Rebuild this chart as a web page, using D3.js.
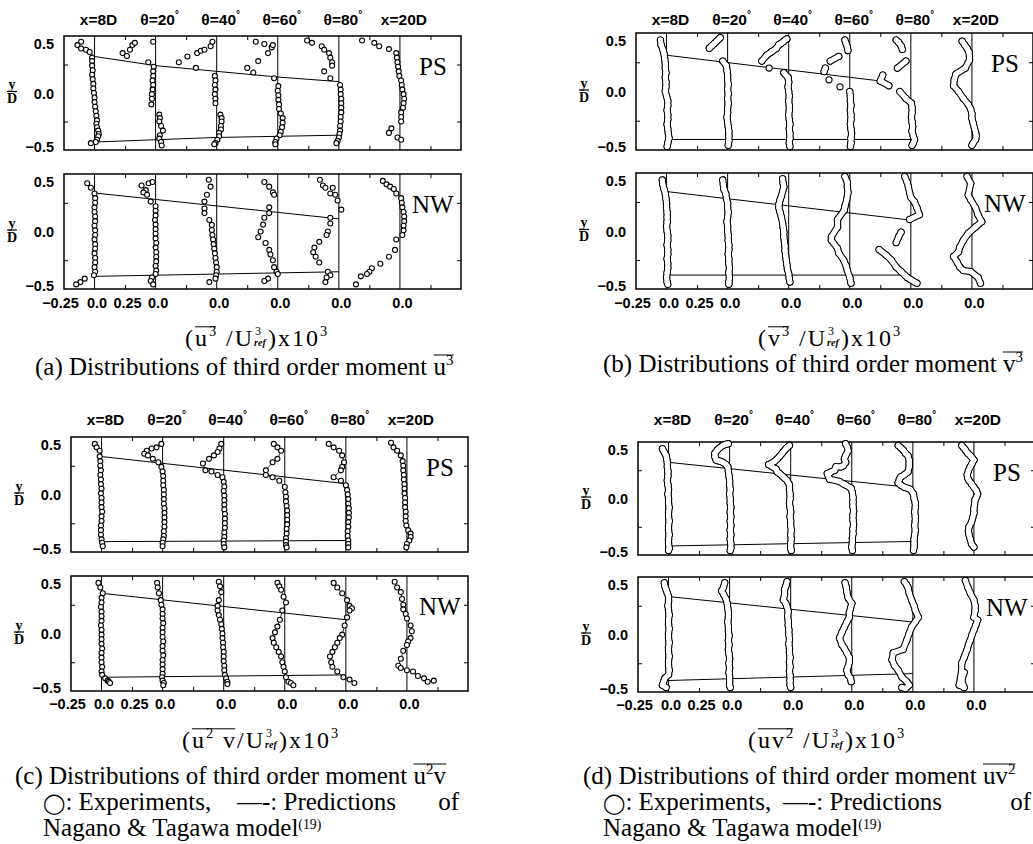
<!DOCTYPE html>
<html>
<head>
<meta charset="utf-8">
<script src="https://cdn.jsdelivr.net/npm/d3@7"></script>
<style>
  body { margin: 0; background: #fff; }
  svg { display: block; }
  text { white-space: pre; }
</style>
</head>
<body>
<div id="chart"></div>
<script>
const stationLabels = ["x=8D", "θ=20°", "θ=40°", "θ=60°", "θ=80°", "x=20D"];
const stationPos = [0, 0.5, 1.0, 1.5, 2.0, 2.5];
const xTickValues = [-0.25, 0, 0.25, 0.5, 1.0, 1.5, 2.0, 2.5];
const xTickLabels = ["−0.25", "0.0", "0.25", "0.0", "0.0", "0.0", "0.0", "0.0"];
const xMinorTicks = [0.25, 0.75, 1.25, 1.75, 2.25, 2.75];
const yTickValues = [0.5, 0, -0.5];
const yTickLabels = ["0.5", "0.0", "−0.5"];
const yMinorTicks = [0.25, -0.25];

// each profile: [offset from station zero (x10^3), y/D]
const u3PS = [
  [[-0.11,0.45],[-0.14,0.42],[-0.11,0.39],[-0.07,0.38],[-0.04,0.36],[-0.02,0.31],[-0.02,0.28],[-0.02,0.24],[-0.015,0.20],[-0.02,0.16],[-0.015,0.12],[-0.01,0.08],[-0.01,0.04],[-0.005,0.0],[0,-0.04],[0,-0.08],[0.005,-0.12],[0.01,-0.16],[0.015,-0.20],[0.02,-0.24],[0.015,-0.27],[0.02,-0.30],[0.03,-0.33],[0.035,-0.36],[0.03,-0.38],[0.02,-0.41],[0.01,-0.43],[-0.03,-0.44]],
  [[-0.27,0.35],[-0.235,0.325],[-0.21,0.38],[-0.19,0.42],[-0.17,0.44],[-0.06,0.27],[-0.02,0.45],[-0.015,0.23],[-0.02,0.19],[-0.02,0.15],[-0.025,0.11],[-0.02,0.07],[-0.025,0.03],[-0.03,-0.01],[-0.03,-0.05],[-0.035,-0.10],[0.03,-0.19],[0.035,-0.22],[0.03,-0.25],[0.045,-0.29],[0.06,-0.33],[0.035,-0.37],[0.03,-0.40],[0.045,-0.43],[0.05,-0.46]],
  [[-0.31,0.27],[-0.24,0.32],[-0.17,0.22],[-0.16,0.35],[-0.13,0.37],[-0.10,0.38],[-0.05,0.41],[-0.035,0.45],[-0.015,0.15],[-0.01,0.11],[-0.015,0.07],[-0.01,0.03],[-0.015,-0.01],[-0.01,-0.05],[-0.01,-0.09],[0.03,-0.19],[0.04,-0.22],[0.04,-0.25],[0.035,-0.29],[0.035,-0.32],[0.02,-0.35],[0.02,-0.38],[0.005,-0.41],[-0.01,-0.44],[-0.02,-0.45]],
  [[-0.18,0.45],[-0.11,0.43],[-0.05,0.40],[-0.04,0.42],[-0.08,0.35],[-0.16,0.28],[-0.25,0.22],[-0.20,0.18],[-0.03,0.13],[0.005,0.06],[0,0.02],[0.005,-0.02],[0.005,-0.06],[0.01,-0.10],[0.01,-0.14],[0.025,-0.18],[0.04,-0.22],[0.04,-0.26],[0.035,-0.30],[0.025,-0.34],[0.015,-0.37],[-0.01,-0.40],[-0.02,-0.43],[-0.02,-0.45]],
  [[-0.26,0.46],[-0.22,0.44],[-0.14,0.41],[-0.12,0.38],[-0.08,0.35],[-0.07,0.31],[-0.055,0.27],[-0.055,0.24],[-0.12,0.19],[-0.07,0.13],[0.01,0.07],[0.015,0.03],[0.015,-0.01],[0.02,-0.05],[0.02,-0.09],[0.02,-0.13],[0.02,-0.17],[0.015,-0.21],[0.015,-0.25],[0.01,-0.29],[0.01,-0.33],[0.005,-0.36],[0,-0.39],[-0.01,-0.42],[-0.02,-0.44]],
  [[-0.31,0.46],[-0.21,0.44],[-0.17,0.41],[-0.09,0.385],[-0.03,0.35],[-0.025,0.31],[-0.02,0.27],[-0.015,0.23],[-0.01,0.19],[-0.005,0.15],[0.01,0.11],[0.015,0.07],[0.02,0.03],[0.03,-0.01],[0.035,-0.05],[0.03,-0.09],[0.025,-0.13],[0.01,-0.17],[0.01,-0.21],[0.01,-0.25],[-0.07,-0.31],[-0.09,-0.35],[-0.02,-0.39],[0.01,-0.41]]
];
const u3PSUpper = [[0,0.32],[0.5,0.24],[1.0,0.19],[1.5,0.14],[2.0,0.10]];
const u3PSLower = [[0,-0.43],[0.5,-0.41],[1.0,-0.39],[1.5,-0.38],[2.0,-0.37]];

const u3NW = [
  [[-0.06,0.42],[-0.03,0.38],[0,0.33],[0.005,0.29],[0.005,0.25],[0,0.21],[0,0.17],[0.005,0.13],[0.005,0.09],[0,0.05],[0.005,0.01],[0.005,-0.03],[0,-0.07],[0.005,-0.11],[0.005,-0.15],[0,-0.19],[0.005,-0.23],[0.005,-0.27],[0,-0.31],[0.005,-0.35],[-0.005,-0.38],[-0.08,-0.41],[-0.115,-0.44],[-0.15,-0.46]],
  [[-0.115,0.40],[-0.08,0.36],[-0.057,0.42],[-0.025,0.43],[-0.10,0.34],[-0.07,0.32],[-0.04,0.26],[0,0.22],[0,0.18],[0,0.14],[-0.005,0.10],[0,0.06],[0,0.02],[0,-0.02],[0,-0.06],[0.005,-0.10],[0,-0.14],[0.005,-0.18],[0.005,-0.22],[0.005,-0.26],[0,-0.30],[0.005,-0.34],[0,-0.37],[-0.03,-0.40],[-0.04,-0.43],[-0.02,-0.46]],
  [[-0.065,0.45],[-0.05,0.39],[-0.08,0.32],[-0.10,0.26],[-0.10,0.20],[-0.10,0.16],[-0.06,0.10],[-0.04,0.056],[-0.04,0.013],[-0.035,-0.03],[-0.03,-0.07],[-0.025,-0.11],[-0.02,-0.15],[-0.015,-0.19],[-0.01,-0.23],[-0.005,-0.27],[0,-0.31],[0,-0.35],[-0.005,-0.38],[-0.01,-0.41],[-0.06,-0.44]],
  [[-0.11,0.43],[-0.07,0.39],[-0.04,0.34],[-0.03,0.32],[-0.07,0.21],[-0.07,0.16],[-0.11,0.12],[-0.12,0.06],[-0.14,0.0],[-0.16,-0.05],[-0.10,-0.10],[-0.07,-0.16],[-0.06,-0.20],[-0.04,-0.25],[-0.03,-0.31],[-0.01,-0.35],[0,-0.37],[-0.08,-0.41],[-0.11,-0.43]],
  [[-0.155,0.45],[-0.13,0.40],[-0.11,0.38],[-0.07,0.33],[-0.05,0.38],[-0.03,0.32],[-0.01,0.27],[0.02,0.19],[-0.07,0.12],[-0.07,0.07],[-0.09,0.0],[-0.10,-0.03],[-0.16,-0.09],[-0.20,-0.14],[-0.21,-0.18],[-0.19,-0.22],[-0.16,-0.27],[-0.09,-0.35],[-0.07,-0.38],[-0.10,-0.40],[-0.11,-0.44]],
  [[-0.14,0.44],[-0.11,0.41],[-0.08,0.39],[-0.05,0.37],[-0.03,0.33],[0.01,0.29],[0.015,0.25],[0.02,0.21],[0.03,0.17],[0.035,0.13],[0.035,0.09],[0.03,0.05],[0.03,0.01],[0.02,-0.03],[-0.03,-0.07],[-0.04,-0.16],[-0.09,-0.22],[-0.16,-0.28],[-0.23,-0.32],[-0.25,-0.35],[-0.27,-0.37],[-0.32,-0.39],[-0.36,-0.46]]
];
const u3NWUpper = [[0,0.335],[2.0,0.11]];
const u3NWLower = [[0,-0.39],[2.0,-0.35]];

const v3PS = [
  [[-0.05,0.44],[-0.045,0.40],[-0.03,0.36],[-0.02,0.32],[-0.015,0.28],[-0.01,0.24],[-0.01,0.20],[-0.005,0.16],[-0.01,0.12],[-0.005,0.08],[-0.005,0.04],[-0.01,0.0],[0,-0.04],[0.01,-0.08],[0.01,-0.12],[0.005,-0.16],[0.01,-0.20],[0.01,-0.24],[0.005,-0.28],[0.01,-0.32],[0.015,-0.36],[0.02,-0.40],[0.01,-0.44],[0.005,-0.47]],
  [[-0.15,0.37],[-0.13,0.39],[-0.11,0.41],[-0.09,0.43],[-0.07,0.45],[-0.06,0.46],[-0.04,0.26],[-0.01,0.22],[-0.005,0.18],[0,0.14],[0,0.10],[0.005,0.06],[0,0.02],[0.005,-0.02],[0,-0.06],[0.005,-0.10],[0,-0.14],[0,-0.18],[-0.005,-0.22],[0,-0.26],[0.005,-0.30],[0.01,-0.34],[0.01,-0.38],[0.01,-0.42],[0.005,-0.46]],
  [[-0.22,0.26],[-0.18,0.31],[-0.14,0.34],[-0.10,0.37],[-0.08,0.40],[-0.065,0.41],[-0.04,0.43],[-0.015,0.45],[-0.16,0.20],[-0.04,0.16],[-0.005,0.12],[0,0.08],[-0.005,0.04],[0,0.0],[0.005,-0.04],[0,-0.08],[0.005,-0.12],[0.005,-0.16],[0,-0.20],[0.005,-0.24],[0.01,-0.28],[0.005,-0.32],[0.01,-0.36],[0.01,-0.40],[0.005,-0.44],[0.01,-0.47]],
  [[-0.21,0.17],[-0.20,0.20],[-0.17,0.10],[-0.16,0.26],[-0.09,0.30],[-0.08,0.04],[-0.04,0.44],[-0.03,0.41],[-0.02,0.38],[-0.015,0.35],[0,0.0],[0.005,-0.04],[0.005,-0.08],[0.01,-0.12],[0.005,-0.16],[0.01,-0.20],[0.01,-0.24],[0.005,-0.28],[0.01,-0.32],[0.015,-0.36],[0.01,-0.40],[0.01,-0.44],[0.005,-0.47]],
  [[-0.12,0.44],[-0.10,0.42],[-0.08,0.39],[-0.07,0.36],[-0.04,0.26],[-0.11,0.20],[-0.23,0.14],[-0.25,0.09],[-0.18,0.05],[-0.09,0.0],[-0.04,-0.06],[0.005,-0.10],[0.01,-0.14],[0.01,-0.18],[0.005,-0.22],[0.01,-0.26],[0.015,-0.30],[0.01,-0.34],[0.02,-0.38],[0.03,-0.41],[0.02,-0.44],[0.01,-0.46]],
  [[-0.08,0.43],[-0.06,0.40],[-0.04,0.37],[-0.025,0.34],[-0.02,0.30],[-0.02,0.27],[-0.055,0.20],[-0.13,0.15],[-0.145,0.10],[-0.15,0.05],[-0.11,0.0],[-0.07,-0.06],[-0.03,-0.11],[-0.01,-0.15],[0,-0.19],[0,-0.23],[0.01,-0.27],[0.02,-0.31],[0.03,-0.35],[0.035,-0.38],[0.03,-0.41],[0.01,-0.44],[0,-0.46]]
];
const v3PSUpper = [[0,0.31],[1.75,0.09]];
const v3PSLower = [[0,-0.41],[2.0,-0.41]];

const v3NW = [
  [[-0.035,0.44],[-0.03,0.40],[-0.02,0.36],[-0.01,0.32],[-0.005,0.28],[0,0.24],[0,0.20],[0.005,0.16],[0.005,0.12],[0.005,0.08],[0,0.04],[0.005,0.0],[0.01,-0.04],[0.01,-0.08],[0.005,-0.12],[0.01,-0.16],[0.01,-0.20],[0.005,-0.24],[0.01,-0.28],[0.01,-0.32],[0.005,-0.36],[0,-0.40],[0.005,-0.44],[0.01,-0.46]],
  [[-0.04,0.44],[-0.035,0.40],[-0.03,0.36],[-0.015,0.32],[-0.01,0.28],[0,0.24],[0,0.20],[0.005,0.16],[0,0.12],[-0.005,0.08],[0,0.04],[0,0.0],[0.005,-0.04],[0.005,-0.08],[0.01,-0.12],[0.01,-0.16],[0.005,-0.20],[0.01,-0.24],[0.01,-0.28],[0.015,-0.32],[0.01,-0.36],[0.015,-0.40],[0.01,-0.44],[0.01,-0.46]],
  [[-0.05,0.45],[-0.045,0.41],[-0.04,0.38],[-0.05,0.34],[-0.06,0.30],[-0.07,0.27],[-0.08,0.23],[-0.08,0.20],[-0.07,0.16],[-0.06,0.12],[-0.05,0.07],[-0.045,0.03],[-0.04,-0.01],[-0.04,-0.05],[-0.035,-0.09],[-0.03,-0.13],[-0.03,-0.17],[-0.025,-0.21],[-0.02,-0.25],[-0.015,-0.29],[-0.01,-0.33],[0,-0.37],[0.005,-0.41],[0.01,-0.44]],
  [[-0.04,0.47],[-0.02,0.42],[-0.02,0.38],[-0.015,0.33],[-0.025,0.27],[-0.04,0.21],[-0.045,0.18],[-0.10,0.10],[-0.10,0.035],[-0.15,-0.05],[-0.15,-0.08],[-0.10,-0.15],[-0.09,-0.19],[-0.05,-0.25],[-0.03,-0.30],[-0.02,-0.34],[0,-0.40],[0.01,-0.45]],
  [[-0.05,0.47],[-0.03,0.42],[-0.02,0.38],[-0.01,0.33],[0,0.29],[0.03,0.25],[0.05,0.20],[0.07,0.14],[-0.01,0.10],[-0.08,-0.01],[-0.10,-0.05],[-0.12,-0.10],[-0.26,-0.16],[-0.20,-0.21],[-0.16,-0.25],[-0.12,-0.31],[-0.08,-0.35],[-0.05,-0.38],[-0.03,-0.40],[0,-0.42],[0.03,-0.44],[0.05,-0.45]],
  [[-0.04,0.47],[-0.01,0.41],[-0.03,0.31],[-0.01,0.27],[0.03,0.20],[0.05,0.14],[0.08,0.08],[0.03,0.035],[-0.03,-0.02],[-0.07,-0.08],[-0.10,-0.14],[-0.11,-0.18],[-0.15,-0.22],[-0.12,-0.27],[-0.10,-0.31],[-0.07,-0.34],[-0.01,-0.35],[0.05,-0.40],[0.07,-0.45]]
];
const v3NWUpper = [[0,0.34],[1.99,0.095]];
const v3NWLower = [[0,-0.38],[2.0,-0.38]];

const u2vPS = [
  [[-0.055,0.44],[-0.04,0.41],[-0.015,0.38],[-0.015,0.33],[-0.01,0.29],[-0.01,0.25],[-0.005,0.21],[-0.01,0.17],[-0.005,0.13],[-0.005,0.09],[0,0.05],[-0.005,0.01],[0,-0.03],[0,-0.07],[0,-0.11],[0.005,-0.15],[0,-0.19],[0,-0.23],[-0.005,-0.27],[-0.005,-0.31],[-0.005,-0.35],[0,-0.39],[0.005,-0.42],[0.01,-0.45]],
  [[-0.01,0.44],[-0.05,0.41],[-0.09,0.40],[-0.13,0.38],[-0.15,0.355],[-0.12,0.34],[-0.08,0.31],[-0.035,0.28],[-0.01,0.24],[0,0.20],[0.005,0.16],[0.005,0.12],[0.005,0.08],[0.01,0.04],[0.01,0.0],[0.01,-0.04],[0.01,-0.08],[0.015,-0.12],[0.015,-0.16],[0.015,-0.20],[0.015,-0.24],[0.015,-0.28],[0.01,-0.32],[0.01,-0.36],[0.005,-0.39],[0,-0.42],[0,-0.45]],
  [[-0.02,0.44],[-0.035,0.40],[-0.05,0.37],[-0.08,0.34],[-0.12,0.31],[-0.17,0.27],[-0.15,0.21],[-0.10,0.20],[-0.05,0.17],[-0.01,0.15],[0,0.11],[0.005,0.07],[0,0.03],[0.005,-0.01],[0.005,-0.05],[0.005,-0.09],[0.005,-0.13],[0.01,-0.17],[0.01,-0.21],[0.01,-0.25],[0.01,-0.29],[0.005,-0.33],[0.005,-0.37],[0,-0.40],[0,-0.43],[0.005,-0.46]],
  [[-0.09,0.44],[-0.06,0.41],[-0.03,0.38],[-0.06,0.31],[-0.10,0.28],[-0.155,0.21],[-0.155,0.17],[-0.10,0.15],[-0.045,0.12],[0,0.065],[0.005,0.02],[0.01,-0.02],[0.01,-0.06],[0.015,-0.10],[0.02,-0.14],[0.02,-0.18],[0.02,-0.22],[0.02,-0.26],[0.015,-0.30],[0.015,-0.34],[0.01,-0.38],[0.01,-0.41],[0.01,-0.44],[0.015,-0.46]],
  [[-0.14,0.44],[-0.10,0.41],[-0.055,0.38],[-0.03,0.34],[-0.015,0.28],[-0.03,0.24],[-0.04,0.21],[-0.10,0.15],[-0.04,0.12],[0,0.08],[0.01,0.04],[0.015,0.0],[0.02,-0.04],[0.02,-0.08],[0.025,-0.12],[0.025,-0.16],[0.025,-0.20],[0.02,-0.24],[0.02,-0.28],[0.015,-0.32],[0.015,-0.36],[0.02,-0.40],[0.02,-0.43],[0.02,-0.46]],
  [[-0.13,0.45],[-0.11,0.41],[-0.08,0.38],[-0.05,0.34],[-0.035,0.29],[-0.03,0.25],[-0.03,0.21],[-0.025,0.17],[-0.025,0.13],[-0.02,0.09],[-0.02,0.05],[-0.02,0.01],[-0.015,-0.03],[-0.015,-0.07],[-0.015,-0.11],[-0.01,-0.15],[-0.01,-0.19],[-0.01,-0.23],[-0.005,-0.27],[0.01,-0.31],[0.03,-0.34],[0.03,-0.37],[0.02,-0.40],[0,-0.43],[-0.005,-0.46]]
];
const u2vPSUpper = [[0,0.33],[2.0,0.094]];
const u2vPSLower = [[0,-0.41],[2.0,-0.40]];

const u2vNW = [
  [[-0.025,0.44],[-0.01,0.40],[0.01,0.35],[0,0.31],[0,0.27],[-0.005,0.23],[0,0.19],[0,0.15],[0,0.11],[-0.005,0.07],[0,0.03],[0,-0.01],[0,-0.05],[0,-0.09],[0.005,-0.13],[0,-0.17],[0,-0.21],[0,-0.25],[0.005,-0.29],[0,-0.33],[0.005,-0.36],[0.03,-0.39],[0.05,-0.41],[0.06,-0.42],[0.07,-0.43]],
  [[-0.045,0.44],[-0.04,0.40],[-0.03,0.35],[-0.015,0.29],[-0.01,0.25],[0,0.21],[0,0.17],[0,0.13],[0.005,0.09],[0,0.05],[0,0.01],[0,-0.03],[0.005,-0.07],[0,-0.11],[0,-0.15],[0.005,-0.19],[0,-0.23],[0,-0.27],[0,-0.31],[0,-0.35],[-0.005,-0.38],[0,-0.41],[0.01,-0.43],[0.005,-0.45]],
  [[-0.04,0.45],[-0.03,0.41],[-0.02,0.36],[-0.04,0.29],[-0.05,0.24],[-0.05,0.20],[-0.04,0.16],[-0.03,0.12],[-0.02,0.08],[-0.015,0.04],[-0.01,0.0],[-0.01,-0.04],[-0.005,-0.08],[-0.005,-0.12],[0,-0.16],[0,-0.20],[0,-0.24],[0.005,-0.28],[0.005,-0.32],[0.01,-0.36],[0.02,-0.39],[0.03,-0.42],[0.03,-0.44]],
  [[-0.06,0.44],[-0.045,0.41],[-0.03,0.38],[-0.01,0.32],[0.01,0.27],[-0.02,0.20],[-0.04,0.12],[-0.06,0.06],[-0.08,0.01],[-0.10,-0.04],[-0.09,-0.08],[-0.07,-0.12],[-0.05,-0.16],[-0.03,-0.20],[-0.02,-0.25],[-0.01,-0.29],[0,-0.33],[0.01,-0.38],[0.03,-0.42],[0.05,-0.43],[0.07,-0.45]],
  [[-0.10,0.44],[-0.07,0.40],[-0.03,0.35],[0.01,0.29],[0.03,0.24],[0.05,0.22],[0.03,0.20],[0.01,0.14],[-0.01,0.07],[-0.03,-0.01],[-0.05,-0.04],[-0.07,-0.08],[-0.09,-0.12],[-0.11,-0.16],[-0.13,-0.20],[-0.12,-0.25],[-0.11,-0.29],[-0.07,-0.33],[-0.02,-0.38],[0.03,-0.40],[0.07,-0.43]],
  [[-0.10,0.45],[-0.08,0.40],[-0.05,0.36],[-0.04,0.30],[-0.03,0.25],[-0.03,0.21],[-0.01,0.17],[0,0.13],[0.03,0.07],[0.04,0.02],[0.03,-0.04],[0.01,-0.07],[0,-0.10],[-0.03,-0.15],[-0.05,-0.22],[-0.07,-0.28],[-0.05,-0.30],[0,-0.32],[0.05,-0.33],[0.09,-0.37],[0.14,-0.39],[0.17,-0.42],[0.22,-0.41]]
];
const u2vNWUpper = [[0,0.35],[2.0,0.12]];
const u2vNWLower = [[0.05,-0.38],[2.0,-0.36]];

const uv2PS = [
  [[-0.05,0.44],[-0.035,0.41],[-0.02,0.38],[-0.015,0.35],[-0.01,0.32],[-0.01,0.28],[-0.005,0.24],[-0.005,0.20],[-0.01,0.16],[-0.005,0.12],[0,0.08],[-0.005,0.04],[0,0.0],[0,-0.04],[0.005,-0.08],[0,-0.12],[0,-0.16],[0.005,-0.20],[0,-0.24],[0,-0.28],[0.005,-0.32],[0,-0.36],[0,-0.40],[0.005,-0.44],[0,-0.46]],
  [[-0.01,0.485],[-0.03,0.48],[-0.055,0.47],[-0.08,0.45],[-0.10,0.43],[-0.12,0.40],[-0.12,0.37],[-0.11,0.34],[-0.08,0.33],[-0.055,0.32],[-0.03,0.30],[-0.015,0.28],[-0.01,0.24],[-0.005,0.20],[0,0.16],[0,0.12],[0.005,0.08],[0,0.04],[0.005,0.0],[0.005,-0.04],[0.01,-0.08],[0.005,-0.12],[0.01,-0.16],[0.005,-0.20],[0.01,-0.24],[0.005,-0.28],[0.01,-0.32],[0.005,-0.36],[0.01,-0.40],[0.01,-0.44],[0.005,-0.46]],
  [[-0.01,0.47],[-0.025,0.455],[-0.04,0.44],[-0.055,0.42],[-0.07,0.40],[-0.09,0.375],[-0.11,0.35],[-0.13,0.33],[-0.18,0.30],[-0.12,0.26],[-0.11,0.235],[-0.09,0.22],[-0.07,0.20],[-0.05,0.18],[-0.03,0.16],[-0.01,0.12],[-0.01,0.08],[-0.005,0.04],[-0.005,0.0],[-0.01,-0.04],[-0.005,-0.08],[0,-0.12],[-0.005,-0.16],[0,-0.20],[0,-0.24],[0.005,-0.28],[0,-0.32],[0.005,-0.36],[0,-0.40],[0,-0.44],[0.005,-0.46]],
  [[-0.05,0.485],[-0.035,0.45],[-0.03,0.42],[-0.05,0.38],[-0.06,0.35],[-0.05,0.32],[-0.07,0.29],[-0.09,0.28],[-0.13,0.28],[-0.14,0.25],[-0.17,0.235],[-0.20,0.22],[-0.19,0.19],[-0.18,0.17],[-0.10,0.15],[-0.07,0.13],[-0.05,0.12],[-0.02,0.10],[-0.005,0.09],[0.005,0.05],[0.01,0.01],[0.01,-0.03],[0.01,-0.07],[0.015,-0.11],[0.01,-0.15],[0.01,-0.19],[0.015,-0.23],[0.01,-0.27],[0.01,-0.31],[0.005,-0.35],[0.005,-0.39],[0,-0.43],[0.005,-0.46]],
  [[-0.12,0.47],[-0.10,0.45],[-0.08,0.43],[-0.06,0.40],[-0.04,0.38],[-0.03,0.34],[-0.03,0.31],[-0.03,0.28],[-0.04,0.235],[-0.07,0.21],[-0.10,0.19],[-0.11,0.17],[-0.12,0.14],[-0.10,0.12],[-0.07,0.10],[-0.04,0.09],[-0.02,0.08],[0.005,0.04],[0.01,0.0],[0.02,-0.04],[0.02,-0.08],[0.015,-0.12],[0.02,-0.16],[0.02,-0.20],[0.015,-0.24],[0.02,-0.28],[0.015,-0.32],[0.01,-0.36],[0.01,-0.40],[0.01,-0.43],[0.005,-0.46]],
  [[-0.10,0.47],[-0.085,0.45],[-0.07,0.43],[-0.05,0.40],[-0.03,0.38],[-0.015,0.36],[0,0.34],[-0.015,0.31],[-0.03,0.28],[-0.045,0.245],[-0.055,0.21],[-0.05,0.18],[-0.04,0.16],[-0.02,0.13],[0,0.10],[0.02,0.07],[0.03,0.04],[0.02,0.01],[0.01,-0.01],[0.005,-0.05],[0,-0.09],[0,-0.13],[-0.01,-0.17],[-0.02,-0.21],[-0.04,-0.25],[-0.045,-0.29],[-0.04,-0.32],[-0.03,-0.36],[-0.02,-0.40],[0,-0.43]]
];
const uv2PSUpper = [[0,0.32],[1.96,0.10]];
const uv2PSLower = [[0,-0.42],[2.0,-0.38]];

const uv2NW = [
  [[-0.035,0.45],[-0.03,0.42],[-0.02,0.39],[-0.01,0.36],[0,0.33],[0,0.29],[-0.005,0.25],[0,0.21],[0.005,0.17],[0,0.13],[0,0.09],[0.005,0.05],[0,0.01],[0,-0.03],[0.005,-0.07],[0,-0.11],[0,-0.15],[0.005,-0.19],[0,-0.23],[0,-0.27],[0.005,-0.31],[0,-0.35],[-0.03,-0.38],[-0.04,-0.41],[-0.05,-0.44],[-0.02,-0.46]],
  [[-0.04,0.45],[-0.05,0.41],[-0.065,0.38],[-0.05,0.35],[-0.03,0.31],[-0.02,0.27],[-0.015,0.23],[-0.01,0.19],[-0.01,0.15],[-0.015,0.11],[-0.01,0.07],[-0.01,0.03],[-0.005,-0.01],[-0.01,-0.05],[-0.005,-0.09],[-0.01,-0.13],[-0.005,-0.17],[0,-0.21],[-0.005,-0.25],[0,-0.29],[-0.005,-0.33],[0,-0.37],[0,-0.41],[0,-0.44],[0.005,-0.46]],
  [[-0.03,0.46],[-0.04,0.42],[-0.05,0.39],[-0.05,0.35],[-0.06,0.30],[-0.04,0.27],[-0.03,0.24],[-0.02,0.20],[-0.025,0.16],[-0.02,0.12],[-0.02,0.08],[-0.015,0.04],[-0.015,0.0],[-0.01,-0.04],[-0.015,-0.08],[-0.01,-0.12],[-0.01,-0.16],[-0.005,-0.20],[-0.01,-0.24],[-0.005,-0.28],[-0.01,-0.32],[-0.005,-0.36],[-0.005,-0.40],[-0.005,-0.44],[0,-0.46]],
  [[-0.055,0.45],[-0.045,0.41],[-0.04,0.37],[-0.03,0.32],[0,0.27],[-0.01,0.23],[-0.02,0.19],[-0.02,0.15],[-0.04,0.11],[-0.06,0.065],[-0.08,0.02],[-0.10,-0.03],[-0.08,-0.09],[-0.06,-0.12],[-0.04,-0.16],[-0.02,-0.20],[-0.02,-0.24],[-0.03,-0.28],[-0.04,-0.31],[-0.03,-0.35],[-0.01,-0.38],[-0.005,-0.41]],
  [[-0.07,0.46],[-0.05,0.43],[-0.04,0.41],[-0.03,0.36],[-0.01,0.30],[0.01,0.25],[0.02,0.21],[0.045,0.15],[0.02,0.11],[-0.01,0.065],[-0.03,0.01],[-0.05,-0.05],[-0.08,-0.13],[-0.16,-0.16],[-0.17,-0.22],[-0.15,-0.27],[-0.12,-0.31],[-0.09,-0.37],[-0.05,-0.41],[-0.03,-0.44],[-0.06,-0.47],[-0.09,-0.46]],
  [[-0.07,0.47],[-0.05,0.41],[-0.03,0.36],[0,0.30],[0.01,0.25],[0.01,0.21],[0,0.15],[0.03,0.126],[0.015,0.08],[0,0.04],[-0.015,0.0],[-0.03,-0.05],[-0.045,-0.09],[-0.055,-0.13],[-0.07,-0.17],[-0.08,-0.20],[-0.10,-0.25],[-0.10,-0.31],[-0.11,-0.38],[-0.12,-0.44],[-0.08,-0.46],[-0.10,-0.40],[-0.08,-0.33]]
];
const uv2NWUpper = [[0,0.33],[1.99,0.11]];
const uv2NWLower = [[0,-0.40],[2.0,-0.34]];

const serif = "'Liberation Serif', 'Times New Roman', serif";
const sans = "'Liberation Sans', Arial, sans-serif";

const titleU3 = [{t:"("},{t:"u",over:1},{t:"3",sup:1,over:1},{t:" /U"},{stack:["3","ref"]},{t:")x10"},{t:"3",sup:1}];
const titleV3 = [{t:"("},{t:"v",over:1},{t:"3",sup:1,over:1},{t:" /U"},{stack:["3","ref"]},{t:")x10"},{t:"3",sup:1}];
const titleU2V = [{t:"("},{t:"u",over:1},{t:"2",sup:1,over:1},{t:" v",over:1},{t:"/U"},{stack:["3","ref"]},{t:")x10"},{t:"3",sup:1}];
const titleUV2 = [{t:"("},{t:"uv",over:1},{t:"2",sup:1,over:1},{t:" /U"},{stack:["3","ref"]},{t:")x10"},{t:"3",sup:1}];

const legendA = [{t:"◯", family:"'DejaVu Sans', sans-serif", scale:0.8},{t:": Experiments,"}];
const legendB = [{t:"—-: Predictions"}];
const legendC = [{t:"Nagano & Tagawa model"},{t:"(19)",sup:1,small:1}];

const panels = [
  { left: 64, top: [36, 174], bottom: [150, 289], headY: 25, labY: 289, titleY: 346, titleX: 257,
    style: "dots", lines: false, data: [u3PS, u3NW], upper: [u3PSUpper, u3NWUpper], lower: [u3PSLower, u3NWLower],
    title: titleU3,
    captions: [{x: 35, y: 375, parts: [{t:"(a) Distributions of third order moment "},{t:"u",over:1},{t:"3",sup:1,over:1}]}] },
  { left: 636, top: [33, 173], bottom: [150, 289], headY: 25, labY: 289, titleY: 346, titleX: 830,
    style: "tube", lines: false, data: [v3PS, v3NW], upper: [v3PSUpper, v3NWUpper], lower: [v3PSLower, v3NWLower],
    title: titleV3,
    captions: [{x: 603, y: 372, parts: [{t:"(b) Distributions of third order moment "},{t:"v",over:1},{t:"3",sup:1,over:1}]}] },
  { left: 71, top: [437, 576], bottom: [552, 691], headY: 425, labY: 690, titleY: 748, titleX: 261,
    style: "dots", lines: true, data: [u2vPS, u2vNW], upper: [u2vPSUpper, u2vNWUpper], lower: [u2vPSLower, u2vNWLower],
    title: titleU2V,
    captions: [
      {x: 15, y: 784, parts: [{t:"(c) Distributions of third order moment "},{t:"u",over:1},{t:"2",sup:1,over:1},{t:"v",over:1}]},
      {x: 43, y: 810, parts: legendA}, {x: 237, y: 810, parts: legendB}, {x: 459, y: 810, parts: [{t:"of"}], anchor: "end"},
      {x: 43, y: 836, parts: legendC}] },
  { left: 638, top: [442, 577], bottom: [555, 692], headY: 425, labY: 691, titleY: 748, titleX: 827,
    style: "tube", lines: true, data: [uv2PS, uv2NW], upper: [uv2PSUpper, uv2NWUpper], lower: [uv2PSLower, uv2NWLower],
    title: titleUV2,
    captions: [
      {x: 583, y: 784, parts: [{t:"(d) Distributions of third order moment "},{t:"uv",over:1},{t:"2",sup:1,over:1}]},
      {x: 603, y: 810, parts: legendA}, {x: 783, y: 810, parts: legendB}, {x: 1031, y: 810, parts: [{t:"of"}], anchor: "end"},
      {x: 603, y: 836, parts: legendC}] }
];
const subLabels = ["PS", "NW"];

const svg = d3.select("#chart").append("svg")
  .attr("width", 1033).attr("height", 844)
  .style("font-family", sans);

function richText(parent, x, y, parts, o) {
  const size = o.size, ls = o.spacing || 0;
  const g = parent.append("g").attr("font-family", serif).attr("font-size", size).attr("fill", "#000");
  let cx = 0;
  const overs = [];
  parts.forEach(p => {
    if (p.stack) {
      const a = g.append("text").attr("x", cx + 1).attr("y", -size * 0.45).attr("font-size", size * 0.5).text(p.stack[0]);
      const b = g.append("text").attr("x", cx).attr("y", 0).attr("font-size", size * 0.42)
        .attr("font-weight", "bold").attr("font-style", "italic").text(p.stack[1]);
      cx += Math.max(a.node().getComputedTextLength(), b.node().getComputedTextLength()) + ls;
      return;
    }
    const t = g.append("text").attr("x", cx)
      .attr("xml:space", "preserve")
      .attr("y", p.sup ? -size * (p.small ? 0.3 : 0.42) : 0)
      .attr("font-size", p.sup ? size * (p.small ? 0.55 : 0.6) : size * (p.scale || 1))
      .style("letter-spacing", ls + "px")
      .text(p.t);
    if (p.family) t.attr("font-family", p.family);
    const w = t.node().getComputedTextLength();
    if (p.over) overs.push(cx, cx + w - ls);
    cx += w;
  });
  if (overs.length) {
    g.append("line").attr("x1", d3.min(overs)).attr("x2", d3.max(overs))
      .attr("y1", -size * 0.8).attr("y2", -size * 0.8)
      .attr("stroke", "#000").attr("stroke-width", 1);
  }
  const x0 = o.anchor === "middle" ? x - cx / 2 : o.anchor === "end" ? x - cx : x;
  g.attr("transform", `translate(${x0},${y})`);
  return g;
}

function drawProfiles(g, x, y, profiles, style, lines) {
  const r = 2.5;
  const pts = profiles.map((prof, i) => prof.map(d => [x(stationPos[i] + d[0]), y(d[1])]));

  if (lines) {
    pts.forEach(p => {
      const segs = d3.pairs(p).filter(([a, b]) => Math.hypot(a[0] - b[0], a[1] - b[1]) < 30);
      g.append("g").selectAll("line").data(segs).join("line")
        .attr("x1", d => d[0][0]).attr("y1", d => d[0][1])
        .attr("x2", d => d[1][0]).attr("y2", d => d[1][1])
        .attr("stroke", "#000").attr("stroke-width", 0.8);
    });
  }

  if (style === "tube") {
    const all = pts.flat();
    const segs = pts.flatMap(p => d3.pairs(p).filter(([a, b]) => Math.hypot(a[0] - b[0], a[1] - b[1]) < 12));
    [["#000", r + 1.1], ["#fff", r]].forEach(([c, rr]) => {
      const layer = g.append("g");
      layer.selectAll("line").data(segs).join("line")
        .attr("x1", d => d[0][0]).attr("y1", d => d[0][1])
        .attr("x2", d => d[1][0]).attr("y2", d => d[1][1])
        .attr("stroke", c).attr("stroke-width", rr * 2).attr("stroke-linecap", "round");
      layer.selectAll("circle").data(all).join("circle")
        .attr("cx", d => d[0]).attr("cy", d => d[1]).attr("r", rr).attr("fill", c);
    });
  } else {
    g.append("g").selectAll("circle").data(pts.flat()).join("circle")
      .attr("cx", d => d[0]).attr("cy", d => d[1]).attr("r", r)
      .attr("fill", "#fff").attr("stroke", "#000").attr("stroke-width", 1.1);
  }
}

panels.forEach(p => {
  const x = d3.scaleLinear().domain([-0.25, 3.0]).range([p.left, p.left + 397]);

  // station headers
  const head = svg.append("g").attr("font-size", 15.5).attr("font-weight", "bold").attr("text-anchor", "middle");
  stationLabels.forEach((s, i) => {
    const t = head.append("text").attr("x", x(stationPos[i]) + 4).attr("y", p.headY);
    if (s.endsWith("°")) {
      t.append("tspan").text(s.slice(0, -1));
      t.append("tspan").attr("dy", -7).attr("font-size", 10).text("°");
    } else t.text(s);
  });

  [0, 1].forEach(k => {
    const y = d3.scaleLinear().domain([-0.5, 0.5]).range([p.bottom[k], p.top[k]]);
    const g = svg.append("g");

    // zero line of each station
    g.selectAll("line.zero").data(stationPos).join("line").attr("class", "zero")
      .attr("x1", d => x(d)).attr("x2", d => x(d))
      .attr("y1", y(0.5)).attr("y2", y(-0.5))
      .attr("stroke", "#000").attr("stroke-width", 1);

    // inward minor ticks
    const noDomain = s => s.select(".domain").remove();
    g.append("g").attr("transform", `translate(0,${y(-0.5)})`)
      .call(d3.axisBottom(x).tickValues(xMinorTicks).tickSize(-4).tickFormat("")).call(noDomain);
    g.append("g").attr("transform", `translate(0,${y(0.5)})`)
      .call(d3.axisTop(x).tickValues(xMinorTicks).tickSize(-4).tickFormat("")).call(noDomain);
    g.append("g").attr("transform", `translate(${x(-0.25)},0)`)
      .call(d3.axisLeft(y).tickValues(yMinorTicks).tickSize(-4).tickFormat("")).call(noDomain);
    g.append("g").attr("transform", `translate(${x(3.0)},0)`)
      .call(d3.axisRight(y).tickValues(yMinorTicks).tickSize(-4).tickFormat("")).call(noDomain);

    // y tick labels
    g.append("g").attr("transform", `translate(${x(-0.25)},0)`)
      .call(d3.axisLeft(y).tickValues(yTickValues).tickSize(0).tickPadding(10)
        .tickFormat((d, i) => yTickLabels[i]))
      .call(noDomain)
      .call(s => s.selectAll("text")
        .attr("font-family", sans).attr("font-size", 14.5).attr("font-weight", "bold")
        .attr("dy", (d, i) => ["0.85em", "0.35em", "0.12em"][i]));

    // frame
    g.append("rect")
      .attr("x", x(-0.25)).attr("y", y(0.5))
      .attr("width", x(3.0) - x(-0.25)).attr("height", y(-0.5) - y(0.5))
      .attr("fill", "none").attr("stroke", "#000").attr("stroke-width", 1.5);

    // y/D
    const yd = g.append("g").attr("font-family", serif).attr("font-weight", "bold")
      .attr("font-size", 14).attr("text-anchor", "middle")
      .attr("transform", `translate(${p.left - 52},${y(0)})`);
    yd.append("text").attr("y", -4).text("y");
    yd.append("line").attr("x1", -5).attr("x2", 5).attr("y1", -1.5).attr("y2", -1.5)
      .attr("stroke", "#000").attr("stroke-width", 1.2);
    yd.append("text").attr("y", 10).text("D");

    // predicted edges
    const line = d3.line().x(d => x(d[0])).y(d => y(d[1]));
    [p.upper[k], p.lower[k]].forEach(L => {
      g.append("path").attr("d", line(L)).attr("fill", "none")
        .attr("stroke", "#000").attr("stroke-width", 1);
    });

    drawProfiles(g, x, y, p.data[k], p.style, p.lines);

    g.append("text").attr("x", x(2.77)).attr("y", y(0.5) + 39)
      .attr("text-anchor", "middle").attr("font-family", serif).attr("font-size", 25)
      .text(subLabels[k]);
  });

  // x tick labels under the NW frame
  svg.append("g").attr("transform", `translate(0,${p.labY})`)
    .call(d3.axisBottom(x).tickValues(xTickValues).tickSize(0).tickPadding(9)
      .tickFormat((d, i) => xTickLabels[i]))
    .call(s => s.select(".domain").remove())
    .call(s => s.selectAll("text")
      .attr("font-family", sans).attr("font-size", 14.5).attr("font-weight", "bold")
      .attr("dx", (d, i) => i === 0 ? -4 : 2));

  richText(svg, p.titleX, p.titleY, p.title, {size: 24, spacing: 2, anchor: "middle"});
  p.captions.forEach(c => richText(svg, c.x, c.y, c.parts, {size: 25, anchor: c.anchor || "start"}));
});
</script>
</body>
</html>
